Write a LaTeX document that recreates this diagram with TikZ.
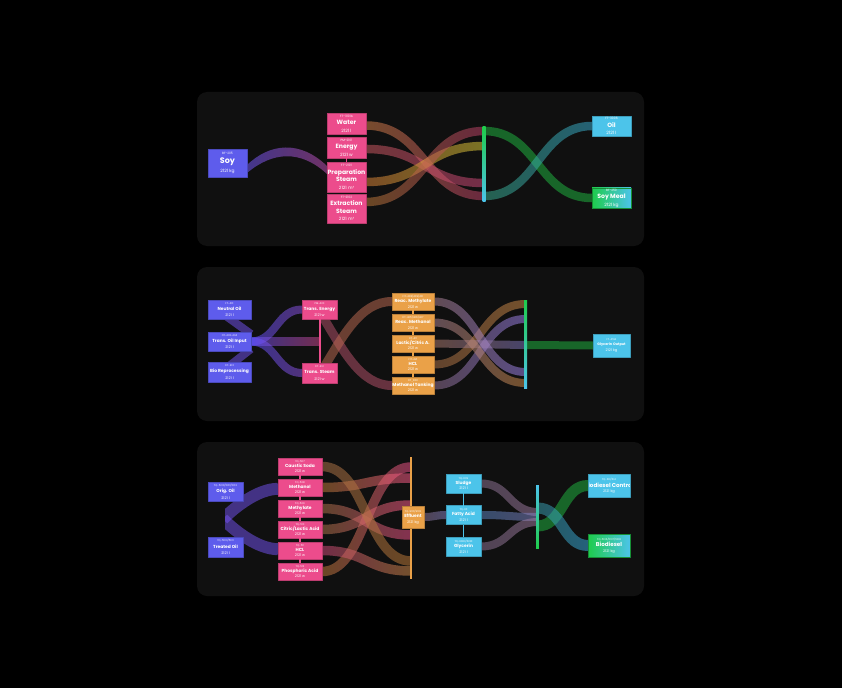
\documentclass[tikz,border=0pt]{standalone}
\usepackage{fontspec}
\setmainfont{Poppins}
\usepackage{tikz}
\usetikzlibrary{calc,positioning,backgrounds}
\definecolor{pagebg}{HTML}{000000}
\definecolor{panelbg}{HTML}{101010}
\definecolor{srcblue}{HTML}{5E5CEC}
\definecolor{chempink}{HTML}{EC4C8C}
\definecolor{reacorange}{HTML}{EAA148}
\definecolor{outsky}{HTML}{4CC4EA}
\definecolor{prodgreen}{HTML}{1FCC4C}
% band colours
\definecolor{bandsoyL}{HTML}{735AFF}
\definecolor{bandsoyR}{HTML}{C652B6}
\definecolor{bandwater}{HTML}{D78449}
\definecolor{bandwine}{HTML}{BE416B}
\definecolor{bandrust}{HTML}{CF5A62}
\definecolor{bandrose}{HTML}{CF497B}
\definecolor{bandamber}{HTML}{DF8439}
\definecolor{bandolive}{HTML}{DFCF39}
\definecolor{bandbrown}{HTML}{BE7B39}
\definecolor{bandgreen}{HTML}{20B641}
\definecolor{bandteal}{HTML}{39AD8C}
\definecolor{bandcyan}{HTML}{39ADCF}
\definecolor{bandindigo}{HTML}{6252FF}
\definecolor{bandviolet}{HTML}{8C52DF}
\definecolor{bandmagenta}{HTML}{CF498C}
\definecolor{bandberry}{HTML}{B6526B}
\definecolor{bandclay}{HTML}{BE6B52}
\definecolor{bandtan}{HTML}{AD7349}
\definecolor{bandcopper}{HTML}{CF8C49}
\definecolor{bandmauve}{HTML}{947394}
\definecolor{bandlilac}{HTML}{9D84F0}
\definecolor{bandsand}{HTML}{AD7B6B}
\definecolor{bandslate}{HTML}{7B73BE}
\definecolor{bandplum}{HTML}{AD8494}
\definecolor{bandhot}{HTML}{FF5A8C}
\definecolor{bandpinkred}{HTML}{F0528C}
\definecolor{bandsteel}{HTML}{5A84BE}
\definecolor{bandgrape}{HTML}{8484C6}
\definecolor{bandsmoke}{HTML}{8C7394}
\definecolor{bandheather}{HTML}{A07BA0}
\definecolor{bandpetrol}{HTML}{399DAD}
\definecolor{bandsky}{HTML}{39ADDF}
\definecolor{backpurple}{HTML}{7352F0}
% text sizes
\newcommand\tagf{\fontsize{2.3}{2.8}\selectfont}
\newcommand\namef{\bfseries\fontsize{4.6}{5}\selectfont}
\newcommand\valf{\fontsize{3.3}{4}\selectfont}
\newcommand\stag{\fontsize{1.9}{2.4}\selectfont}
\newcommand\sname{\bfseries\fontsize{3.3}{4}\selectfont}
\newcommand\sval{\fontsize{2.7}{3.2}\selectfont}
\newcommand\oname{\bfseries\fontsize{4.2}{4.6}\selectfont}
% shaded sankey band from #1 to #2, width #3 in px
\newcommand\flowband[5]{%
  \shade[bandfill,left color=#4,right color=#5]
    let \p1=#1,\p2=#2,
        \n1={atan2(2*abs(\y2-\y1),abs(\x2-\x1))},
        \n4={#3*0.375},
        \n2={\n4*(1-cos(\n1))/(0.75*sin(\n1)+0.001)},
        \n3={(\y1-\y2)/(abs(\y1-\y2)+0.001)*\n2}
    in (\x1,\y1+\n4) .. controls ({0.5*\x1+0.5*\x2+\n3},\y1+\n4)
                         and ({0.5*\x1+0.5*\x2+\n3},\y2+\n4) .. (\x2,\y2+\n4)
       -- (\x2,\y2-\n4) .. controls ({0.5*\x1+0.5*\x2-\n3},\y2-\n4)
                         and ({0.5*\x1+0.5*\x2-\n3},\y1-\n4) .. (\x1,\y1-\n4) -- cycle;}
\tikzset{
    every picture/.style={line join=round},
    sz/.style 2 args={minimum width=#1*0.75pt,minimum height=#2*0.75pt},
    flowbox/.style={rectangle,inner sep=0pt,outer sep=0pt,line width=0.35pt,
      text=white,align=center,font=\fontsize{3}{5.6}\selectfont},
    srcbox/.style={flowbox,fill=srcblue,draw=srcblue!80!black},
    chembox/.style={flowbox,fill=chempink,draw=chempink!80!black},
    reacbox/.style={flowbox,fill=reacorange,draw=reacorange!80!black},
    skybox/.style={flowbox,fill=outsky,draw=outsky!80!black},
    prodbox/.style={flowbox,left color=prodgreen,right color=outsky,draw=prodgreen!70!black},
    smallfont/.style={font=\fontsize{2.6}{4.8}\selectfont},
    stackfont/.style={font=\fontsize{2.6}{4}\selectfont},
    hubbar/.style={rectangle,inner sep=0pt,outer sep=0pt},
    stacklink/.style={line width=1.1pt},
    bandfill/.style={fill opacity=0.52},
    bandline/.style={line width=#1*0.75pt,draw opacity=0.52,line cap=butt}
}
\begin{document}
\begin{tikzpicture}[x=0.75pt,y=-0.75pt]
  \useasboundingbox (0,0) rectangle (842,688);
  \begin{scope}[on background layer]
    \fill[pagebg] (0,0) rectangle (842,688);
    \foreach \top in {92,267,442}
      \fill[panelbg,rounded corners=7.5pt] (197,\top) rectangle (644,\top+154);
  \end{scope}

  % --- panel 1: soy preparation
  \node[srcbox,sz={39}{28},font=\fontsize{3}{6.6}\selectfont] (soy) at (227.5,163)
    {{\tagf BF-205}\\{\bfseries\fontsize{6}{6}\selectfont Soy}\\{\valf 2121 kg}};
  \node[chembox,sz={39}{21}] (water) at (346.5,123.5) {{\tagf FT-3101A}\\{\namef Water}\\{\valf 2121 l}};
  \node[chembox,sz={39}{21},below=2.25pt of water] (energy) {{\tagf PM-2101}\\{\namef Energy}\\{\valf 2121 w}};
  \node[chembox,sz={39}{30},below=3pt of energy] (prep)
    {{\tagf FT-2101}\\{\namef Preparation}\\{\namef Steam}\\{\valf 2121 m³}};
  \node[chembox,sz={39}{29},below=1.5pt of prep] (extr)
    {{\tagf FT-2102}\\{\namef Extraction}\\{\namef Steam}\\{\valf 2121 m³}};
  \draw[stacklink,chempink] (energy.south) -- (prep.north);
  \node[hubbar,sz={3}{74},top color=prodgreen,bottom color=outsky] (hub1) at (484,164) {};
  \node[skybox,sz={39}{20}] (oil) at (611.5,126) {{\tagf FT-3006}\\{\namef Oil}\\{\valf 2121 l}};
  \node[prodbox,sz={39}{20}] (meal) at (611.5,198) {{\tagf BF-250}\\{\namef Soy Meal}\\{\valf 2121 kg}};
  \coordinate (h1a) at ($(hub1.north)+(0,4)$);
  \coordinate (h1b) at ($(hub1.north)+(0,19)$);
  \coordinate (h1c) at ($(hub1.north)+(0,56)$);
  \coordinate (h1d) at ($(hub1.north)+(0,69)$);

  % --- panel 2: transesterification
  \node[srcbox,smallfont,sz={43}{19}] (neutral) at (229.5,309.5) {{\stag FT-401}\\{\sname Neutral Oil}\\{\sval 2121 l}};
  \node[srcbox,smallfont,sz={43}{19}] (transin) at (229.5,341.5) {{\stag FIT-402-404}\\{\sname Trans. Oil Input}\\{\sval 2121 l}};
  \node[srcbox,smallfont,sz={43}{20}] (bio) at (229.5,372) {{\stag FIT-413}\\{\sname Bio Reprocessing}\\{\sval 2121 l}};
  \node[chembox,smallfont,sz={35}{19}] (tenergy) at (319.5,309.5) {{\stag PM-420}\\{\sname Trans. Energy}\\{\sval 2121 w}};
  \node[chembox,smallfont,sz={35}{20}] (tsteam) at (319.5,373) {{\stag FIT-412}\\{\sname Trans. Steam}\\{\sval 2121 w}};
  \draw[line width=1.5pt,chempink] (tenergy.south) -- (tsteam.north);
  \coordinate (tlink) at (tenergy.south |- transin.east);
  \foreach \id/\tg/\nm [count=\i from 0] in {rmethylate/{FIT-408/409/410}/Reac. Methylate,
      rmethanol/{FIT-405/406/407}/Reac. Methanol, lactic/FIT-411/{Lactic/Citric A.},
      hclb/FIT-421/HCL, mtank/FIT\_800/Methanol Tanking}
    \node[reacbox,stackfont,sz={42}{17}] (\id) at (413,301.5+21*\i) {{\stag\tg}\\{\sname\nm}\\{\sval 2121 w}};
  \foreach \a/\b in {rmethylate/rmethanol,rmethanol/lactic,lactic/hclb,hclb/mtank}
    \draw[stacklink,reacorange] (\a.south) -- (\b.north);
  \node[hubbar,sz={3}{88},top color=prodgreen,bottom color=outsky] (hub2) at (525.5,344) {};
  \node[skybox,stackfont,sz={37}{23}] (glyout) at (611.5,345.5)
    {{\stag FT-451A}\\{\bfseries\fontsize{2.6}{3}\selectfont Glycerin Output}\\{\sval 2121 kg}};
  \coordinate (h2a) at ($(hub2.north)+(0,4)$);
  \coordinate (h2b) at ($(hub2.north)+(0,19)$);
  \coordinate (h2c) at ($(hub2.north)+(0,45)$);
  \coordinate (h2d) at ($(hub2.north)+(0,72)$);
  \coordinate (h2e) at ($(hub2.north)+(0,83)$);

  % --- panel 3: purification
  \node[srcbox,smallfont,sz={35}{19}] (origoil) at (225.5,491.5) {{\stag TQ-5010/5011/5012}\\{\sname Orig. Oil}\\{\sval 2121 l}};
  \node[srcbox,smallfont,sz={35}{20}] (treated) at (225.5,547) {{\stag TQ-5100/5101}\\{\sname Treated Oil}\\{\sval 2121 l}};
  \foreach \id/\tg/\nm [count=\i from 0] in {caustic/TQ-507/Caustic Soda, methanolc/TQ-508/Methanol,
      methylatec/TQ-509/Methylate, citric/TQ-510/{Citric/Lactic Acid}, hclc/TQ-511/HCL,
      phos/TQ-512/Phosphoric Acid}
    \node[chembox,stackfont,sz={44}{17}] (\id) at (300,466.5+21*\i) {{\stag\tg}\\{\sname\nm}\\{\sval 2121 w}};
  \foreach \a/\b in {caustic/methanolc,methanolc/methylatec,methylatec/citric,citric/hclc,hclc/phos}
    \draw[stacklink,chempink] (\a.south) -- (\b.north);
  \node[hubbar,sz={2.6}{122},fill=reacorange] (obar) at (411,518) {};
  \node[reacbox,stackfont,sz={22}{22}] (effluent) at (413,517) {{\stag TQ-9101/9102}\\{\sname Effluent}\\{\sval 2121 kg}};
  \foreach \id/\tg/\nm [count=\i from 0] in {sludge/TQ-609/Sludge, fatty/TQ-611/Fatty Acid,
      glycerinc/{TQ-6080/6081}/Glycerin}
    \node[skybox,stackfont,sz={35}{19}] (\id) at (463.5,483.5+31.5*\i) {{\stag\tg}\\{\sname\nm}\\{\sval 2121 l}};
  \foreach \a/\b in {sludge/fatty,fatty/glycerinc}
    \draw[stacklink,outsky] (\a.south) -- (\b.north);
  \node[hubbar,sz={2.6}{63},top color=outsky,bottom color=prodgreen] (hub3) at (537.5,516.5) {};
  \node[skybox,stackfont,sz={42}{23},font=\fontsize{2.6}{4.6}\selectfont,
    path picture={\node[text=white,inner sep=0pt] at (path picture bounding box.center)
      {\oname Biodiesel Control};}] (biocontrol) at (609,485.5)
    {{\stag TQ-613/614}\\{\oname\strut}\\{\sval 2121 kg}};
  \node[prodbox,stackfont,sz={42}{23},font=\fontsize{2.6}{4.6}\selectfont] (biodiesel) at (609,545.5)
    {{\stag TQ-5106/5107/5108}\\{\oname Biodiesel}\\{\sval 2121 kg}};
  \coordinate (tip) at (223,519);
  \foreach \k/\dy in {k1/27,k2/32,k3/37,k4/41,k5/23}
    \coordinate (\k) at ($(hub3.north)+(0,\dy)$);
  \foreach \o/\dy in {o1/10,o2/21,o3/48,o4/78,o5/104,o6/114}
    \coordinate (\o) at ($(obar.north)+(0,\dy)$);

  % --- bands, behind the boxes
  \begin{scope}[on background layer]
    \shade[bandfill,left color=bandsoyL,right color=bandsoyR]
      ([yshift=-1.5pt]soy.east) .. controls +(23,-22) and +(-27,-26) .. ([yshift=8.25pt]prep.west)
      -- ([yshift=2.25pt]prep.west) .. controls +(-27,-25) and +(25,-21) .. ([yshift=-7.5pt]soy.east) -- cycle;
    \flowband{([yshift=-1.5pt]water.east)}{(h1d)}{8.5}{bandwater}{bandwine}
    \flowband{([yshift=-1.1pt]energy.east)}{(h1c)}{8.5}{bandrust}{bandrose}
    \flowband{([yshift=-3.75pt]prep.east)}{(h1b)}{8.5}{bandamber}{bandolive}
    \flowband{([yshift=4.9pt]extr.east)}{(h1a)}{8.5}{bandbrown}{bandwine}
    \flowband{(h1a)}{(meal.west)}{8.5}{bandgreen}{bandgreen}
    \flowband{(h1d)}{(oil.west)}{8.5}{bandteal}{bandcyan}

    \draw[bandline=8,backpurple] ([xshift=6pt,yshift=0.5pt]neutral.west) -- ([yshift=5.6pt]transin.east);
    \draw[bandline=8,backpurple] ([xshift=6pt,yshift=-3.2pt]bio.west) -- ([yshift=-5.6pt]transin.east);
    \flowband{(transin.east)}{(tenergy.west)}{8}{bandindigo}{bandviolet}
    \flowband{(transin.east)}{(tsteam.west)}{8}{bandindigo}{bandviolet}
    \flowband{(transin.east)}{(tlink)}{8}{bandindigo}{bandmagenta}
    \draw[bandline=9,bandberry] ($(tenergy.south)+(1,-6)$) .. controls +(22,36) and +(-32,0) .. (mtank.west);
    \draw[bandline=9,bandclay] ($(tsteam.north)+(1,10)$) .. controls +(22,-36) and +(-32,0) .. (rmethylate.west);
    \flowband{(hclb.east)}{(h2a)}{8}{bandtan}{bandcopper}
    \flowband{(mtank.east)}{(h2b)}{8}{bandmauve}{bandlilac}
    \flowband{(lactic.east)}{(h2c)}{8}{bandsand}{bandslate}
    \flowband{(rmethylate.east)}{(h2d)}{8}{bandplum}{bandlilac}
    \flowband{(rmethanol.east)}{(h2e)}{8}{bandplum}{bandcopper}
    \flowband{(h2c)}{(glyout.west)}{8}{bandgreen}{bandgreen}

    \begin{scope}
      \clip (225,465) rectangle (280,575);
      \draw[bandline=12,backpurple] ([yshift=-1pt]methanolc.west) .. controls +(-20,0) and +(12,-12) .. (tip);
      \draw[bandline=12,backpurple] ([yshift=1pt]hclc.west) .. controls +(-20,0) and +(12,12) .. (tip);
    \end{scope}
    \flowband{(phos.east)}{(o1)}{9.5}{bandbrown}{bandpinkred}
    \flowband{(methanolc.east)}{(o2)}{9.5}{bandbrown}{bandhot}
    \flowband{(citric.east)}{(o3)}{9.5}{bandtan}{bandhot}
    \flowband{(methylatec.east)}{(o4)}{9.5}{bandtan}{bandpinkred}
    \flowband{(caustic.east)}{(o5)}{9.5}{bandtan}{bandbrown}
    \flowband{(hclc.east)}{(o6)}{9.5}{bandrose}{bandcopper}
    \flowband{(effluent.east)}{(fatty.west)}{8}{bandsmoke}{bandgrape}
    \flowband{(sludge.east)}{(k1)}{8}{bandsmoke}{bandheather}
    \flowband{(fatty.east)}{(k2)}{8}{bandsteel}{bandgrape}
    \flowband{(glycerinc.east)}{(k3)}{8}{bandsmoke}{bandheather}
    \flowband{(k4)}{(biocontrol.west)}{11}{bandgreen}{bandgreen}
    \flowband{(k5)}{(biodiesel.west)}{11}{bandpetrol}{bandsky}
  \end{scope}
\end{tikzpicture}
\end{document}
